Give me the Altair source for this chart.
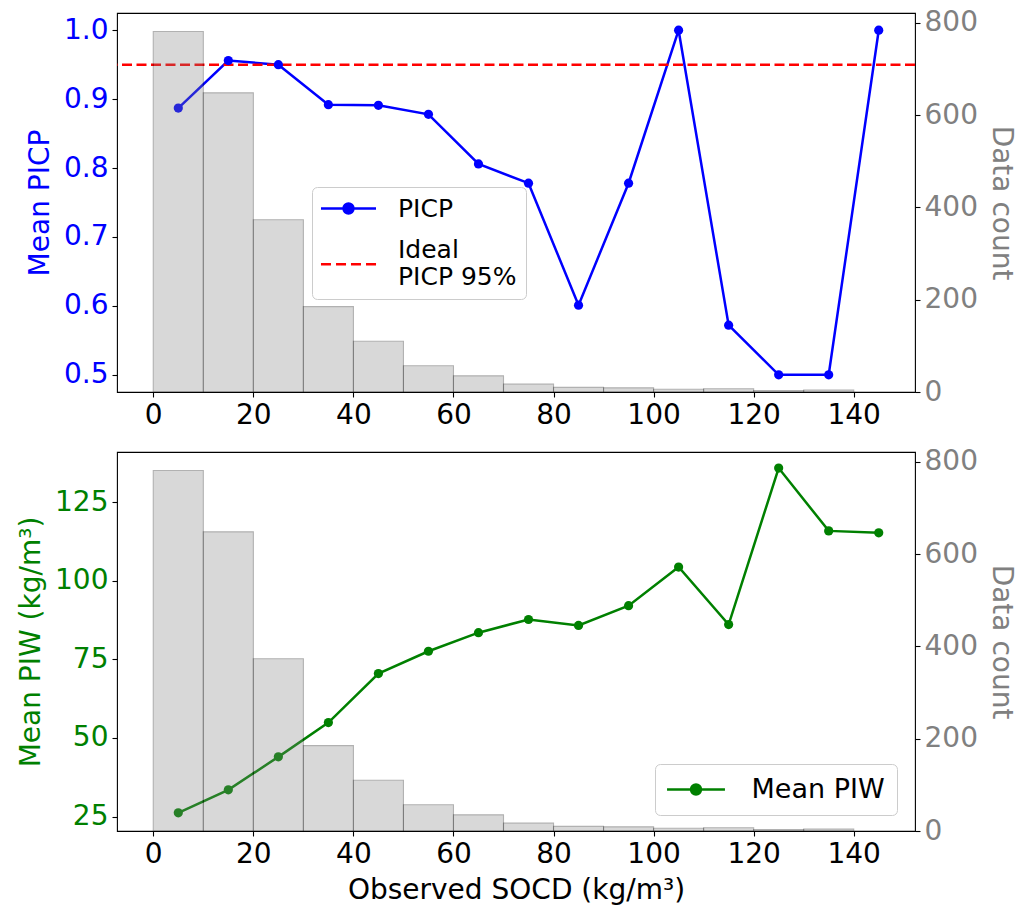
import altair as alt
import pandas as pd

FONT = "DejaVu Sans"

# ---------------- data ----------------
bin_start = [0, 10, 20, 30, 40, 50, 60, 70, 80, 90, 100, 110, 120, 130]
bin_end = [10, 20, 30, 40, 50, 60, 70, 80, 90, 100, 110, 120, 130, 140]
counts = [781, 648, 373, 185, 110, 57, 35, 17, 10, 9, 6, 7, 3, 4]

centers = [5, 15, 25, 35, 45, 55, 65, 75, 85, 95, 105, 115, 125, 135, 145]
picp = [0.887, 0.956, 0.950, 0.892, 0.891, 0.878, 0.806, 0.778, 0.601, 0.778,
        1.0, 0.572, 0.5, 0.5, 1.0]
piw = [26.2, 33.5, 44.0, 54.9, 70.5, 77.6, 83.5, 87.7, 85.8, 92.1,
       104.4, 86.1, 135.9, 115.9, 115.3]
ideal_picp = 0.95

x_ticks = [0, 20, 40, 60, 80, 100, 120, 140]
picp_ticks = [0.5, 0.6, 0.7, 0.8, 0.9, 1.0]
piw_ticks = [25, 50, 75, 100, 125]
count_ticks = [0, 200, 400, 600, 800]

top_series = ["PICP", "Ideal PICP 95%"]
bot_series = ["Mean PIW"]

# ---------------- tables ----------------
hist = pd.DataFrame({"bin_start": bin_start, "bin_end": bin_end, "count": counts})
top_df = pd.DataFrame({"x": centers, "picp": picp})
bot_df = pd.DataFrame({"x": centers, "piw": piw})
rule_df = pd.DataFrame({"picp": [ideal_picp]})
leg_top_df = pd.DataFrame({"x": [centers[0], centers[0]], "picp": [picp[0], ideal_picp],
                           "series": top_series})
leg_bot_df = pd.DataFrame({"x": [centers[0]], "piw": [piw[0]], "series": bot_series})

W, H = 798, 379
LBL = 28
TTL = 28

x_scale = alt.Scale(domain=[-7.25, 152.25], nice=False, zero=False)
picp_scale = alt.Scale(domain=[0.475, 1.025], nice=False, zero=False)
piw_scale = alt.Scale(domain=[20.4, 141.0], nice=False, zero=False)
count_scale = alt.Scale(domain=[0, 821], nice=False)


def x_axis(title):
    kw = dict(values=x_ticks, labelFontSize=LBL, labelFont=FONT, labelColor="black",
              tickColor="black", tickSize=5, tickWidth=1.1, domain=False, grid=False,
              labelPadding=4, labelFlush=False)
    if title:
        kw.update(title=title, titleFontSize=TTL, titleFont=FONT, titleColor="black",
                  titleFontWeight="normal", titlePadding=8)
    else:
        kw.update(title=None)
    return alt.Axis(**kw)


def left_axis(title, values, color, fmt):
    return alt.Axis(values=values, format=fmt, title=title, titleColor=color,
                    labelColor=color, labelFontSize=LBL, labelFont=FONT,
                    titleFontSize=TTL, titleFont=FONT, titleFontWeight="normal",
                    tickColor="black", tickSize=5, tickWidth=1.1, domain=False,
                    grid=False, labelPadding=4, titlePadding=9, labelFlush=False)


count_axis = alt.Axis(orient="right", values=count_ticks, title="Data count",
                      titleColor="gray", labelColor="gray", labelFontSize=LBL,
                      labelFont=FONT, titleFontSize=TTL, titleFont=FONT,
                      titleFontWeight="normal", tickColor="black", tickSize=5,
                      tickWidth=1.1, domain=False, grid=False, labelPadding=4,
                      titlePadding=9, labelFlush=False)

# legend symbol paths (unit = 8 px): line with a dot, dashed line shifted down half a line
path_top_line = ("M-3.44,0L3.44,0M-0.62,0A0.62,0.62,0,1,1,0.62,0"
                 "A0.62,0.62,0,1,1,-0.62,0Z")
path_top_dash = ("M-3.44,1.85H-2.19M-1.56,1.85H-0.31M0.31,1.85H1.56M2.19,1.85H3.44")
path_bot_line = ("M-3.62,0L3.62,0M-0.62,0A0.62,0.62,0,1,1,0.62,0"
                 "A0.62,0.62,0,1,1,-0.62,0Z")


def bars_layer():
    return alt.Chart(hist).mark_bar(fill="gray", stroke="black", strokeWidth=1.1,
                                    opacity=0.3).encode(
        x=alt.X("bin_start:Q", scale=x_scale),
        x2="bin_end:Q",
        y=alt.Y("count:Q", scale=count_scale, axis=count_axis),
        y2=alt.datum(0),
    )


# ---------------- top panel ----------------
pa = left_axis("Mean PICP", picp_ticks, "blue", ".1f")
top_line = alt.Chart(top_df).mark_line(color="blue", strokeWidth=2.5).encode(
    x=alt.X("x:Q", scale=x_scale, axis=x_axis(None)),
    y=alt.Y("picp:Q", scale=picp_scale, axis=pa),
)
top_pts = alt.Chart(top_df).mark_point(filled=True, color="blue", size=85, opacity=1).encode(
    x=alt.X("x:Q", scale=x_scale, axis=x_axis(None)),
    y=alt.Y("picp:Q", scale=picp_scale, axis=pa),
)
top_rule = alt.Chart(rule_df).mark_rule(color="red", strokeWidth=2.5,
                                        strokeDash=[10, 4.5]).encode(
    y=alt.Y("picp:Q", scale=picp_scale, axis=pa),
)
top_leg_def = alt.Legend(
    title=None, orient="none", legendX=195, legendY=174, symbolSize=256,
    symbolStrokeWidth=2.5, symbolOpacity=1, symbolOffset=15,
    labelFontSize=25, labelFont=FONT, labelColor="black", labelOffset=37,
    padding=9, cornerRadius=5, strokeColor="#cccccc", fillColor="white",
    rowPadding=15, labelLimit=300,
    labelExpr="datum.label == 'Ideal PICP 95%' ? ['Ideal', 'PICP 95%'] : datum.label",
)
top_leg = alt.Chart(leg_top_df).mark_point(filled=False, fill="blue", opacity=0).encode(
    x=alt.X("x:Q", scale=x_scale, axis=x_axis(None)),
    y=alt.Y("picp:Q", scale=picp_scale, axis=pa),
    color=alt.Color("series:N", sort=top_series,
                    scale=alt.Scale(domain=top_series, range=["blue", "red"]),
                    legend=top_leg_def),
    shape=alt.Shape("series:N", sort=top_series,
                    scale=alt.Scale(domain=top_series, range=[path_top_line, path_top_dash]),
                    legend=top_leg_def),
)
top_inner = alt.layer(top_line, top_rule, top_pts, top_leg)
top = alt.layer(top_inner, bars_layer()).resolve_scale(y="independent").properties(
    width=W, height=H)

# ---------------- bottom panel ----------------
wa = left_axis("Mean PIW (kg/m³)", piw_ticks, "green", "d")
bx = x_axis("Observed SOCD (kg/m³)")
bot_line = alt.Chart(bot_df).mark_line(color="green", strokeWidth=2.5).encode(
    x=alt.X("x:Q", scale=x_scale, axis=bx),
    y=alt.Y("piw:Q", scale=piw_scale, axis=wa),
)
bot_pts = alt.Chart(bot_df).mark_point(filled=True, color="green", size=85, opacity=1).encode(
    x=alt.X("x:Q", scale=x_scale, axis=bx),
    y=alt.Y("piw:Q", scale=piw_scale, axis=wa),
)
bot_leg_def = alt.Legend(
    title=None, orient="none", legendX=538, legendY=312, symbolSize=256,
    symbolStrokeWidth=2.5, symbolOpacity=1, symbolOffset=15.5,
    labelFontSize=27, labelFont=FONT, labelColor="black", labelOffset=42,
    padding=12, cornerRadius=5, strokeColor="#cccccc", fillColor="white",
    labelLimit=300,
)
bot_leg = alt.Chart(leg_bot_df).mark_point(filled=False, fill="green", opacity=0).encode(
    x=alt.X("x:Q", scale=x_scale, axis=bx),
    y=alt.Y("piw:Q", scale=piw_scale, axis=wa),
    color=alt.Color("series:N", scale=alt.Scale(domain=bot_series, range=["green"]),
                    legend=bot_leg_def),
    shape=alt.Shape("series:N", scale=alt.Scale(domain=bot_series, range=[path_bot_line]),
                    legend=bot_leg_def),
)
bot_inner = alt.layer(bot_line, bot_pts, bot_leg)
bot = alt.layer(bot_inner, bars_layer()).resolve_scale(y="independent").properties(
    width=W, height=H)

chart = alt.vconcat(top, bot, spacing=17).resolve_scale(
    color="independent", shape="independent"
).properties(
    padding={"left": 17, "top": 8, "right": 5, "bottom": 5},
    background="white",
).configure_view(stroke="black", strokeWidth=1.1).configure_axis(
    labelFont=FONT, titleFont=FONT
)

chart.save("out.html", embed_options={"renderer": "svg", "actions": False})
